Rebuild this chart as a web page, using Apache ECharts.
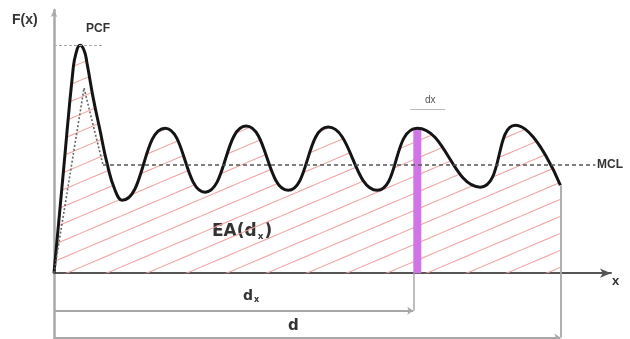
<!DOCTYPE html>
<html><head><meta charset="utf-8">
<script src="https://cdn.jsdelivr.net/npm/echarts@6/dist/echarts.min.js"></script>
<style>html,body{margin:0;padding:0;background:#fff}#c{width:630px;height:339px}</style>
</head><body><div id="c"></div>
<script>
// Force–displacement curve, x in % of d, y in arbitrary force units
const curveX = [0, 1.88, 3.75, 4.35, 5.14, 5.93, 6.52, 7.71, 9.09, 10.47, 12.06, 13.44, 21.94, 29.84, 37.94, 46.25, 54.15, 63.83, 71.74, 84.19, 91.11, 100];
const curveY = [0, 39.1, 77.1, 83.6, 86.6, 84.7, 79.8, 66.9, 54.3, 41.8, 31.5, 27.7, 55.1, 30.8, 55.9, 31.5, 55.5, 31.5, 55.1, 32.7, 56.2, 33.4];
const PCF = 86.6;       // peak crushing force level
const MCL = 41.1;       // mean crushing load level
const triApexX = 5.93, triApexY = 70.3, triEndX = 9.68;
const mclEndX = 106.9;
const dxPos = 70.95;    // position dx
const dxWidth = 1.6;
const dxTop = 55.1;
const dEnd = 100;
const dEndY = 33.4;
const dimDxY = -14.25, dimDY = -24.4;

const curve = curveX.map((x, i) => [x, curveY[i]]);

// hatch pattern
const tile = document.createElement('canvas');
tile.width = 40; tile.height = 17;
const tc = tile.getContext('2d');
tc.strokeStyle = '#f2a0a0'; tc.lineWidth = 1.15;
for (const c of [-4.5, 12.5, 29.5]) {
  tc.beginPath(); tc.moveTo(-2, c + 0.85); tc.lineTo(42, c - 17.85); tc.stroke();
}

const grey = '#a8a8a8';
const chart = echarts.init(document.getElementById('c'), null, {renderer: 'canvas'});
const mlLine = (a, b, style, sym) => [{coord: a, symbol: sym ? sym[0] : 'none', lineStyle: style}, {coord: b, symbol: sym ? sym[1] : 'none'}];

chart.setOption({
  animation: false,
  grid: {left: 54, right: 19, top: 10, bottom: 0},
  xAxis: {type: 'value', min: 0, max: 110, axisLine: {onZero: true, symbol: ['none', 'arrow'], symbolSize: [7, 11], lineStyle: {color: '#555', width: 2}},
    axisTick: {show: false}, axisLabel: {show: false}, splitLine: {show: false}},
  yAxis: {type: 'value', min: -25, max: 100, axisLine: {show: true, onZero: false, symbol: ['none', 'arrow'], symbolSize: [5, 7], lineStyle: {color: grey, width: 2.5}},
    axisTick: {show: false}, axisLabel: {show: false}, splitLine: {show: false}},
  series: [
    {type: 'line', name: 'area', data: curve, smooth: 0.5, showSymbol: false, z: 1,
      lineStyle: {width: 0}, areaStyle: {origin: 'auto', opacity: 1, color: {image: tile, repeat: 'repeat'}}},
    {type: 'line', name: 'dx', data: [[dxPos + dxWidth / 2, 0], [dxPos + dxWidth / 2, dxTop]], showSymbol: false, z: 3,
      lineStyle: {width: 8, color: '#d174e6', cap: 'butt'}},
    {type: 'line', name: 'guides', data: [], z: 2,
      markLine: {silent: true, animation: false, label: {show: false}, symbolSize: 6,
        data: [
          mlLine([0, PCF], [triEndX, PCF], {color: '#aaa', type: [3, 2], width: 1.2}),
          mlLine([0, 0], [triApexX, triApexY], {color: '#666', type: [2, 2], width: 1.6}),
          mlLine([triApexX, triApexY], [triEndX, MCL], {color: '#666', type: [2, 2], width: 1.6}),
          mlLine([triEndX, MCL], [mclEndX, MCL], {color: '#555', type: [4, 3], width: 1.6}),
          mlLine([dxPos, 0], [dxPos, dimDxY], {color: grey, type: 'solid', width: 1.5}),
          mlLine([dEnd, dEndY], [dEnd, dimDY], {color: grey, type: 'solid', width: 1.8}),
          mlLine([0, dimDxY], [dxPos, dimDxY], {color: grey, type: 'solid', width: 2}, ['none', 'arrow']),
          mlLine([0, dimDY], [dEnd, dimDY], {color: grey, type: 'solid', width: 2}, ['none', 'arrow']),
          mlLine([dxPos - 0.6, 62.4], [dxPos + 6.3, 62.4], {color: '#bbb', type: 'solid', width: 1})
        ]}},
    {type: 'line', name: 'curve', data: curve, smooth: 0.5, showSymbol: false, z: 4,
      lineStyle: {width: 3, color: '#141414'}}
  ],
  graphic: [
    {type: 'text', left: 12, top: 13, style: {text: 'F(x)', font: 'bold 14px "Liberation Sans", Arial', fill: '#333'}},
    {type: 'text', left: 86, top: 23, style: {text: 'PCF', font: 'bold 12px "Liberation Sans", Arial', fill: '#333'}},
    {type: 'text', left: 425, top: 95, style: {text: 'dx', font: '10px "Liberation Sans", Arial', fill: '#555'}},
    {type: 'text', left: 597, top: 159, style: {text: 'MCL', font: 'bold 12px "Liberation Sans", Arial', fill: '#333'}},
    {type: 'text', left: 612, top: 275, style: {text: 'x', font: 'bold 13px "Liberation Sans", Arial', fill: '#333'}},
    {type: 'text', left: 212, top: 223, style: {text: '{a|EA(d}{b|x}{a|)}', rich: {a: {font: 'bold 17px "DejaVu Sans"', fill: '#333'}, b: {font: 'bold 9px "DejaVu Sans"', fill: '#333', padding: [10, 1, 0, 1]}}}},
    {type: 'text', left: 243, top: 289, style: {text: '{a|d}{b|x}', rich: {a: {font: 'bold 14px "DejaVu Sans"', fill: '#333'}, b: {font: 'bold 8px "DejaVu Sans"', fill: '#333', padding: [8, 0, 0, 1]}}}},
    {type: 'text', left: 288, top: 319, style: {text: 'd', font: 'bold 15px "DejaVu Sans"', fill: '#333'}}
  ]
});
</script></body></html>
